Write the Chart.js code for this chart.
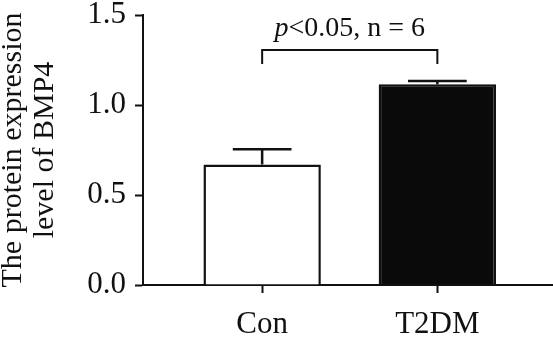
<!DOCTYPE html>
<html>
<head>
<meta charset="utf-8">
<script src="https://cdn.jsdelivr.net/npm/chart.js@4.4.1/dist/chart.umd.min.js"></script>
<style>
body{margin:0;background:#fff;}
</style>
</head>
<body>
<canvas id="chart" width="553" height="346"></canvas>
<script>
const categories=["Con","T2DM"];
const means=[0.67,1.115];
const errors=[0.084,0.018];
const yTicks=[0,0.5,1.0,1.5];
const sigLabel=["p","<0.05, n = 6"];
const bracketLevels=[1.306,1.228]; // bracket top, end of legs
const labelLevel=1.383;

const serif='"Liberation Serif","Times New Roman",serif';
const ink='#111';

// error bars (upper only) + significance bracket
const errorBars={
  id:'errorBars',
  afterDatasetsDraw(chart){
    const ctx=chart.ctx, y=chart.scales.y, x=chart.scales.x;
    const meta=chart.getDatasetMeta(0);
    ctx.save();
    ctx.strokeStyle=ink; ctx.lineWidth=2.5;
    meta.data.forEach((bar,i)=>{
      const top=y.getPixelForValue(means[i]+errors[i]);
      const half=bar.width/4;
      ctx.beginPath();
      ctx.moveTo(bar.x,bar.y); ctx.lineTo(bar.x,top);
      ctx.moveTo(bar.x-half,top); ctx.lineTo(bar.x+half,top);
      ctx.stroke();
    });
    const x0=x.getPixelForValue(0), x1=x.getPixelForValue(1);
    const yb=y.getPixelForValue(bracketLevels[0]), yl=y.getPixelForValue(bracketLevels[1]);
    ctx.lineWidth=2;
    ctx.beginPath();
    ctx.moveTo(x0,yl); ctx.lineTo(x0,yb); ctx.lineTo(x1,yb); ctx.lineTo(x1,yl);
    ctx.stroke();
    ctx.fillStyle=ink; ctx.textBaseline='alphabetic'; ctx.textAlign='left';
    ctx.font='italic 28px '+serif; const w1=ctx.measureText(sigLabel[0]).width;
    ctx.font='28px '+serif; const w2=ctx.measureText(sigLabel[1]).width;
    const sx=(x0+x1)/2-(w1+w2)/2, sy=y.getPixelForValue(labelLevel);
    ctx.font='italic 28px '+serif; ctx.fillText(sigLabel[0],sx,sy);
    ctx.font='28px '+serif; ctx.fillText(sigLabel[1],sx+w1,sy);
    ctx.restore();
  }
};

new Chart(document.getElementById('chart'),{
  type:'bar',
  data:{datasets:[{
    data:categories.map((c,i)=>({x:i,y:means[i]})),
    backgroundColor:['#ffffff','#0a0a0a'],
    borderColor:ink,
    borderWidth:2.5,
    barPercentage:0.67,
    categoryPercentage:1
  }]},
  options:{
    responsive:false,
    animation:false,
    layout:{padding:{top:15,right:0,bottom:0,left:0}},
    plugins:{legend:{display:false},tooltip:{enabled:false}},
    scales:{
      x:{
        type:'linear',min:-0.68,max:1.66,offset:false,
        afterBuildTicks:s=>{s.ticks=categories.map((c,i)=>({value:i}));},
        afterFit:s=>{s.height=61;s.paddingLeft=0;s.paddingRight=0;},
        ticks:{callback:v=>categories[v],color:ink,font:{family:serif,size:31,lineHeight:1},padding:16.5,autoSkip:false,maxRotation:0},
        grid:{display:true,offset:false,drawOnChartArea:false,tickLength:8,tickWidth:2,color:ink},
        border:{color:ink,width:2}
      },
      y:{
        min:0,max:1.5,
        afterBuildTicks:s=>{s.ticks=yTicks.map(v=>({value:v}));},
        afterFit:s=>{s.width=143;s.paddingTop=0;s.paddingBottom=0;},
        ticks:{callback:v=>v.toFixed(1),color:ink,font:{family:serif,size:31,lineHeight:1},padding:9},
        title:{display:true,text:['The protein expression','level of BMP4'],color:ink,font:{family:serif,size:30,lineHeight:1.07},padding:{top:-3,bottom:0}},
        grid:{drawOnChartArea:false,tickLength:8,tickWidth:2,color:ink},
        border:{color:ink,width:2}
      }
    }
  },
  plugins:[errorBars]
});
</script>
</body>
</html>
